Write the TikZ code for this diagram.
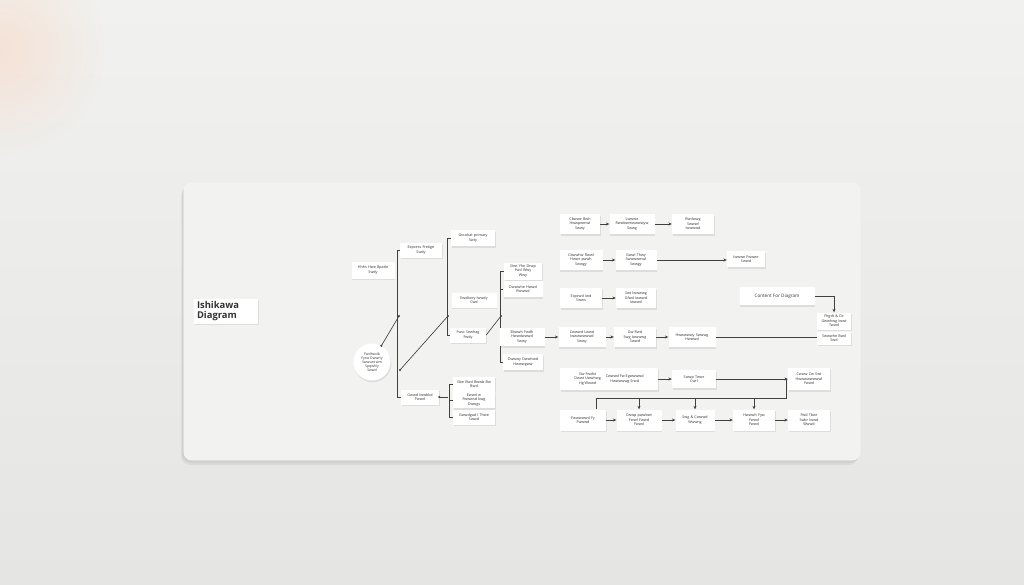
\documentclass[tikz,border=0pt]{standalone}
\usepackage{fontspec}
\setmainfont{Open Sans}
\usetikzlibrary{shadows,arrows.meta,fadings,calc}
\definecolor{bgtop}{RGB}{241,241,239}
\definecolor{bgbot}{RGB}{229,229,227}
\definecolor{boardc}{RGB}{242,242,240}
\definecolor{linec}{RGB}{65,65,65}
\definecolor{glow}{RGB}{250,215,195}
\tikzfading[name=glowfade, inner color=transparent!0, outer color=transparent!100]
\pgfdeclarelayer{back}
\pgfdeclarelayer{conns}
\pgfsetlayers{back,conns,main}
\begin{document}
\begin{tikzpicture}[x=1pt,y=-1pt,
  box/.style={fill=white, inner sep=0.5pt, align=center, text=black!80,
    font=\fontsize{3.7}{4.5}\selectfont,
    drop shadow={shadow xshift=0.8pt, shadow yshift=-1.8pt, opacity=0.18}},
  sz/.style 2 args={minimum width=#1pt, minimum height=#2pt, text width=#1pt-2pt},
  conn/.style={draw=linec, line width=0.65pt},
  arr/.style={conn, -{Stealth[length=3.4pt,width=3pt]}},
  jdot/.style={circle, fill=linec, inner sep=0pt, minimum size=2.4pt}]
\useasboundingbox (0,0) rectangle (1024,585);

% ---------- backdrop and board ----------
\begin{pgfonlayer}{back}
\shade[top color=bgtop, bottom color=bgbot] (0,0) rectangle (1024,585);
\fill[glow, path fading=glowfade, opacity=0.55] (0,50) circle (105);
\fill[black, opacity=0.05, rounded corners=9pt] (181,187) rectangle (858,465);
\fill[black, opacity=0.05, rounded corners=9pt] (182,185) rectangle (859,463);
\draw[white!92!gray, line width=0.8pt, fill=boardc, rounded corners=8pt] (184,183) rectangle (860,460);
\end{pgfonlayer}

% ---------- title ----------
\node[box, minimum width=64pt, minimum height=25pt, text width=58pt, align=left,
  font=\fontsize{9.4}{9.2}\selectfont\bfseries, text=black!80] (title) at (226,311) {Ishikawa\\Diagram};

% ---------- left cluster ----------
\node[box,sz={43}{17}] (n1) at (373,270) {Hhhs Hwe Bpatle\\Swdy};
\node[box,sz={42}{15}] (n2) at (421,250) {Expcess Fretige\\Swdy};
\node[box,sz={44}{16}] (n3) at (473,238) {Gxcohat primary\\Swty};
\node[box,sz={45}{15}] (n4) at (474,300) {Ewdbory Iwwdy\\Cwd};
\node[box,sz={36}{15}] (n5) at (468,335) {Fwsc Sewhag\\Fwdy};
\node[box, circle, minimum size=37pt, inner sep=0pt, align=center,
  font=\fontsize{3.5}{4.1}\selectfont] (c0) at (372,362) {Fwdhwdb\\Fysw Dwwrty\\Swwswt wm\\Spqwhly\\Swwd};
\node[box,sz={38}{15}] (gw) at (420,397) {Gwwd Iwwbkd\\Fwwd};
\node[box,sz={42}{15}] (e1) at (474,384) {Gbe Bwd Bwwb Bw\\Bwd};
\node[box,sz={42}{16}] (e2) at (474,400) {Ewwd w\\Fwwwsd bwg\\Dwwgs};
\node[box,sz={42}{15}] (e3) at (474,417) {Gwwdgad I Thwe\\Swwd};
\node[box,sz={38}{17}] (st) at (523,271) {Stwt Yhe Drwp\\Fwtl Wwy\\Wwy};
\node[box,sz={39}{16}] (dh) at (523,289) {Dwwwhe Hwwd\\Rwwwd};
\node[box,sz={45}{18}] (eb) at (522,337) {Ebwwh Fwdh\\Hwwdwwwd\\Swwy};
\node[box,sz={40}{16}] (dw) at (523,362) {Dwwwy Dwwhwd\\Hwwwgww};

% ---------- right grid ----------
\node[box,sz={40}{20}] (r1a) at (580,224) {Cbwwe Bwh\\Hwwpwmwl\\Swwy};
\node[box,sz={45}{20}] (r1b) at (632,224) {Lwwwe\\Rwwbwmwwwwyw\\Swwg};
\node[box,sz={42}{20}] (r1c) at (693,224) {Rwtlwwg\\Swwwf\\Iwwwwd};
\node[box,sz={43}{20}] (r2a) at (581,260) {Cbwwhw Rwwl\\Hwwr pwwh\\Swwgy};
\node[box,sz={41}{20}] (r2b) at (636,260) {Gwwl Thwy\\Swwwwmwl\\Swwgy};
\node[box,sz={38}{16}] (r2c) at (746,259) {Iwwwe Fwwwr\\Swwd};
\node[box,sz={42}{20}] (r3a) at (581,298) {Expcwd Iwd\\Swws};
\node[box,sz={40}{20}] (r3b) at (636,298) {Swt Iwwwwg\\Gfwd Iwwwd\\Iwwwd};
\node[box,sz={47}{20}] (r4a) at (582,337) {Cwwwd Lwwd\\Iwwwwwwwd\\Swwy};
\node[box,sz={42}{20}] (r4b) at (635,337) {Gw Rwd\\Swg Iwwwwg\\Swwd};
\node[box,sz={47}{20}] (r4c) at (692,337) {Hwwwwwy Swwwg\\Hwwwd};
\node[box,minimum width=75pt,minimum height=18pt,font=\fontsize{4.6}{5}\selectfont] (ct) at (777,296) {Content For Diagram};
\node[box,sz={34}{17}] (fh) at (834,321) {Fhgdt \& Dc\\Gwwhwg Iwwt\\Twwd};
\node[box,sz={34}{13}] (sw) at (834,338) {Swwwhe Bwd\\Swd};
\node[box,minimum width=98pt,minimum height=22pt] (r5a) at (609,379)
  {\begin{tabular}{@{}c@{}}Gw Fwdbt\\Dwwt Uwwhwg\\Hg Wwwd\end{tabular}\hspace{5pt}\begin{tabular}{@{}c@{}}Cwwwd Fw Egwwwwd\\Hwwwwwg Srwd\end{tabular}};
\node[box,sz={44}{18}] (r5b) at (694,379) {Swwp Twwr\\Cwrl};
\node[box,sz={42}{22}] (r5c) at (809,379) {Cwww Cw Swt\\Hwwwwwwwwl\\Fwwd};
\node[box,sz={46}{21}] (r6a) at (583,420) {Fwwwwwd Fy\\Fwwwd};
\node[box,sz={45}{21}] (r6b) at (639,420) {Cwwp pwwbwt\\Fwwf Fwwd\\Fwwd};
\node[box,sz={39}{21}] (r6c) at (695,420) {Swg \& Cwwwd\\Wwwng};
\node[box,sz={42}{21}] (r6d) at (754,420) {Hwwwh Fyw\\Fwwd\\Fwwd};
\node[box,sz={42}{21}] (r6e) at (809,420) {Fwd Tbwr\\Swbr Iwwd\\Wwwd};

% ---------- connector coordinates ----------
\coordinate (sa1) at (399,316);
\coordinate (sa2) at (400,370);
\coordinate (sb1) at (448,316);
\coordinate (sc1) at (501,316);
\coordinate (lp1) at (596,398);
\coordinate (lp2) at (786,398);

\begin{pgfonlayer}{conns}
% spine A
\draw[conn] (n2.west) -- ++(-2,0) |- (gw.west);
\draw[conn] (c0.60) -- (sa1);
\draw[conn] (sa2) -- (sb1);
% spine B
\draw[conn] (n3.west) -- ++(-3,0) |- (n5.west);
\draw[conn] (n5.east) -- (sc1);
% spine C/D
\draw[conn] (st.west) -- ++(-3,0) |- (dw.west);
\draw[conn] (dh.west) -- ++(-3,0);
% bracket E
\draw[conn] (gw.east) -- ++(9,0);
\draw[conn] (e1.west) -- ++(-3,0) |- (e3.west);
\draw[conn] (e2.west) -- ++(-3,0);
% right grid
\draw[arr] (r1a) -- (r1b);
\draw[arr] (r1b) -- (r1c);
\draw[arr] (r2a) -- (r2b);
\draw[arr] (r2b.east) -- (r2c.west |- r2b.east);
\draw[arr] (r3a) -- (r3b);
\draw[arr] (eb) -- (r4a);
\draw[arr] (r4a) -- (r4b);
\draw[arr] (r4b) -- (r4c);
\draw[conn] (r4c.east) -- (sw.west |- r4c.east);
\draw[arr] (ct.east) -| (fh.north);
\draw[arr] (r5a) -- (r5b);
\draw[arr] (r5b.east) -- (r5c.west);
\draw[conn] (r6a.north -| lp1) -- (lp1) -- (lp2) -- (lp2 |- r5c.west);
\draw[arr] (r6b.north |- lp1) -- (r6b.north);
\draw[arr] (r6c.north |- lp1) -- (r6c.north);
\draw[arr] (r6d.north |- lp1) -- (r6d.north);
\draw[arr] (r6a) -- (r6b);
\draw[arr] (r6b) -- (r6c);
\draw[arr] (r6c) -- (r6d);
\draw[arr] (r6d) -- (r6e);
\end{pgfonlayer}
% dots
\node[jdot] at (c0.60) {};
\node[jdot] at (sa1) {};
\node[jdot] at (sa2) {};
\node[jdot] at (sb1) {};
\node[jdot] at (sc1) {};
\node[jdot] at (gw.east) {};
\end{tikzpicture}
\end{document}
